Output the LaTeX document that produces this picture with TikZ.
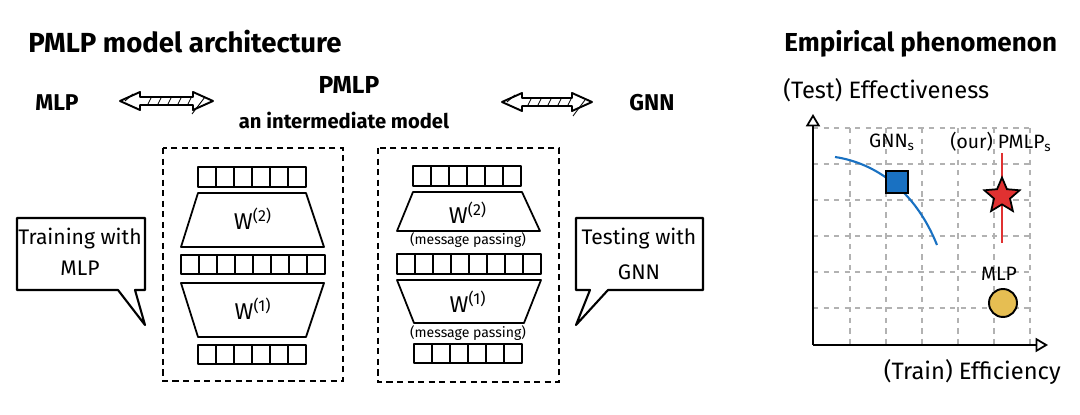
\documentclass[tikz,border=0pt]{standalone}
\usepackage{fontspec}
\setmainfont{Fira Sans}
\usetikzlibrary{shapes.geometric,arrows.meta}
\definecolor{gblue}{HTML}{1971C2}
\definecolor{sred}{HTML}{E03131}
\definecolor{syel}{HTML}{E6BE52}
\newcommand\mycells[5]{% x0, y0, n, w, h
  \foreach \i in {1,...,#3} \draw[shp] ({#1+(\i-1)*#4},#2) rectangle ++(#4,#5);}
\newcommand\fs[1]{\fontsize{#1}{#1}\selectfont}
\tikzset{
  shp/.style={draw=black, line width=1pt, line join=round},
  dbox/.style={draw=black, line width=1pt, dash pattern=on 3.5pt off 2.5pt},
  grid/.style={draw=black!30, line width=0.8pt, dash pattern=on 3pt off 3pt},
  axis/.style={draw=black, line width=1.3pt, -{Triangle[open,length=7pt,width=8pt,line width=1pt]}},
  hdr/.style={font=\bfseries\fs{15.7}, inner sep=0pt},
  lbl/.style={font=\bfseries\fs{13}, inner sep=0pt},
  txt/.style={font=\fs{12}, inner sep=0pt},
  ctxt/.style={font=\fs{11}, inner sep=0pt},
  axtxt/.style={font=\fs{13.5}, inner sep=0pt},
  small/.style={font=\fs{8}, inner sep=0pt},
  wlbl/.style={font=\fs{13}, inner sep=0pt},
  hatch/.style={draw=black, line width=0.5pt},
}
\begin{document}
\begin{tikzpicture}[x=0.02cm,y=-0.02cm]
\useasboundingbox (0,0) rectangle (1080,415);

% ---------- headers ----------
\node[hdr, anchor=west] (title) at (28,42) {PMLP model architecture};
\node[hdr, font=\bfseries\fs{14.8}, anchor=west] (emp) at (784,44) {Empirical phenomenon};

\node[lbl] (mlp) at (57,103) {MLP};
\node[lbl, font=\bfseries\fs{14}] (pmlp) at (349,85) {PMLP};
\node[font=\bfseries\fs{11.5}, inner sep=0pt] (inter) at (344,120) {an intermediate model};
\node[lbl] (gnn) at (652,103) {GNN};

% ---------- double arrows ----------
\draw[shp, line width=1.1pt] (120,101) -- (140,92) -- (140,97) -- (193,97) -- (193,92) -- (213,101)
  -- (193,110) -- (193,105) -- (140,105) -- (140,110) -- cycle;
\foreach \x in {148,158,...,188} \draw[hatch] (\x,104) -- (\x+3,98);
\draw[hatch] (125,101) -- (133,94);
\draw[hatch] (192,114) -- (205,97);

\draw[shp, line width=1.1pt] (502,102) -- (522,93) -- (522,98) -- (572,98) -- (572,93) -- (592,102)
  -- (572,111) -- (572,106) -- (522,106) -- (522,111) -- cycle;
\foreach \x in {528,538,...,568} \draw[hatch] (\x,105) -- (\x+3,99);
\draw[hatch] (507,102) -- (515,95);
\draw[hatch] (573,116) -- (585,100);

% ---------- left (MLP) model box ----------
\draw[dbox] (163,148) rectangle (343,381);
\mycells{198}{167}{6}{18}{20}
\draw[shp] (198,193) -- (306,193) -- (324,247) -- (181,247) -- cycle;
\node[wlbl] (lw2) at (253,219) {W\textsuperscript{(2)}};
\mycells{181}{255}{8}{18}{19}
\draw[shp] (181,283) -- (324,283) -- (306,337) -- (198,337) -- cycle;
\node[wlbl] (lw1) at (253,309) {W\textsuperscript{(1)}};
\mycells{198}{345}{6}{18}{19}

% ---------- right (GNN) model box ----------
\draw[dbox] (378,148) rectangle (559,382);
\mycells{413}{166}{6}{18}{20}
\draw[shp] (413,192) -- (522,192) -- (540,231) -- (397,231) -- cycle;
\node[wlbl] (rw2) at (468,213) {W\textsuperscript{(2)}};
\node[small] (mp2) at (468,240) {(message passing)};
\mycells{397}{254}{8}{18}{20}
\draw[shp] (397,280) -- (541,280) -- (524,323) -- (414,323) -- cycle;
\node[wlbl] (rw1) at (468,302) {W\textsuperscript{(1)}};
\node[small] (mp1) at (468,333) {(message passing)};
\mycells{414}{344}{6}{18}{19}

% ---------- speech bubbles ----------
\draw[shp, line width=1.2pt] (17,218) -- (145,218) -- (145,290) -- (135,290) -- (145,325) -- (118,290) -- (17,290) -- cycle;
\node[txt] (train1) at (80,239) {Training with};
\node[txt] (train2) at (80,268) {MLP};

\draw[shp, line width=1.2pt] (576,218) -- (703,218) -- (703,290) -- (608,290) -- (576,325) -- (590,290) -- (576,290) -- cycle;
\node[txt] (test1) at (639,239) {Testing with};
\node[txt] (test2) at (639,272) {GNN};

% ---------- chart ----------
\foreach \x in {850,886,...,1030} \draw[grid] (\x,128) -- (\x,345);
\foreach \y in {128,164,...,308} \draw[grid] (813,\y) -- (1030,\y);
\coordinate (O) at (813,345);
\coordinate (ytop) at (813,114);
\coordinate (xend) at (1048,345);
\draw[axis] (O) -- (ytop);
\draw[axis] (O) -- (xend);
\node[axtxt, anchor=west] (ylab) at (783,90) {(Test) Effectiveness};
\node[axtxt, anchor=east] (xlab) at (1061,372) {(Train) Efficiency};

\draw[gblue, line width=1.2pt] (835,157) .. controls (875,163) and (915,190) .. (937,245);
\node[draw=black, line width=1.3pt, fill=gblue, minimum size=0.44cm, inner sep=0pt] (gsq) at (897,182) {};
\node[ctxt] (gnns) at (892,142) {GNN\textsubscript{s}};

\draw[sred, line width=1.6pt] (1002,153) -- (1002,243);
\node[star, star points=5, star point ratio=2.2, draw=black, line width=1pt, fill=sred, minimum size=0.74cm, inner sep=0pt] (pstar) at (1002,196) {};
\node[ctxt] (pmlps) at (1001,142) {(our) PMLP\textsubscript{s}};

\node[ctxt] (mlpl) at (999,274) {MLP};
\node[circle, draw=black, line width=1.1pt, fill=syel, minimum size=0.56cm, inner sep=0pt] (mlpc) at (1003,303) {};
\end{tikzpicture}
\end{document}
